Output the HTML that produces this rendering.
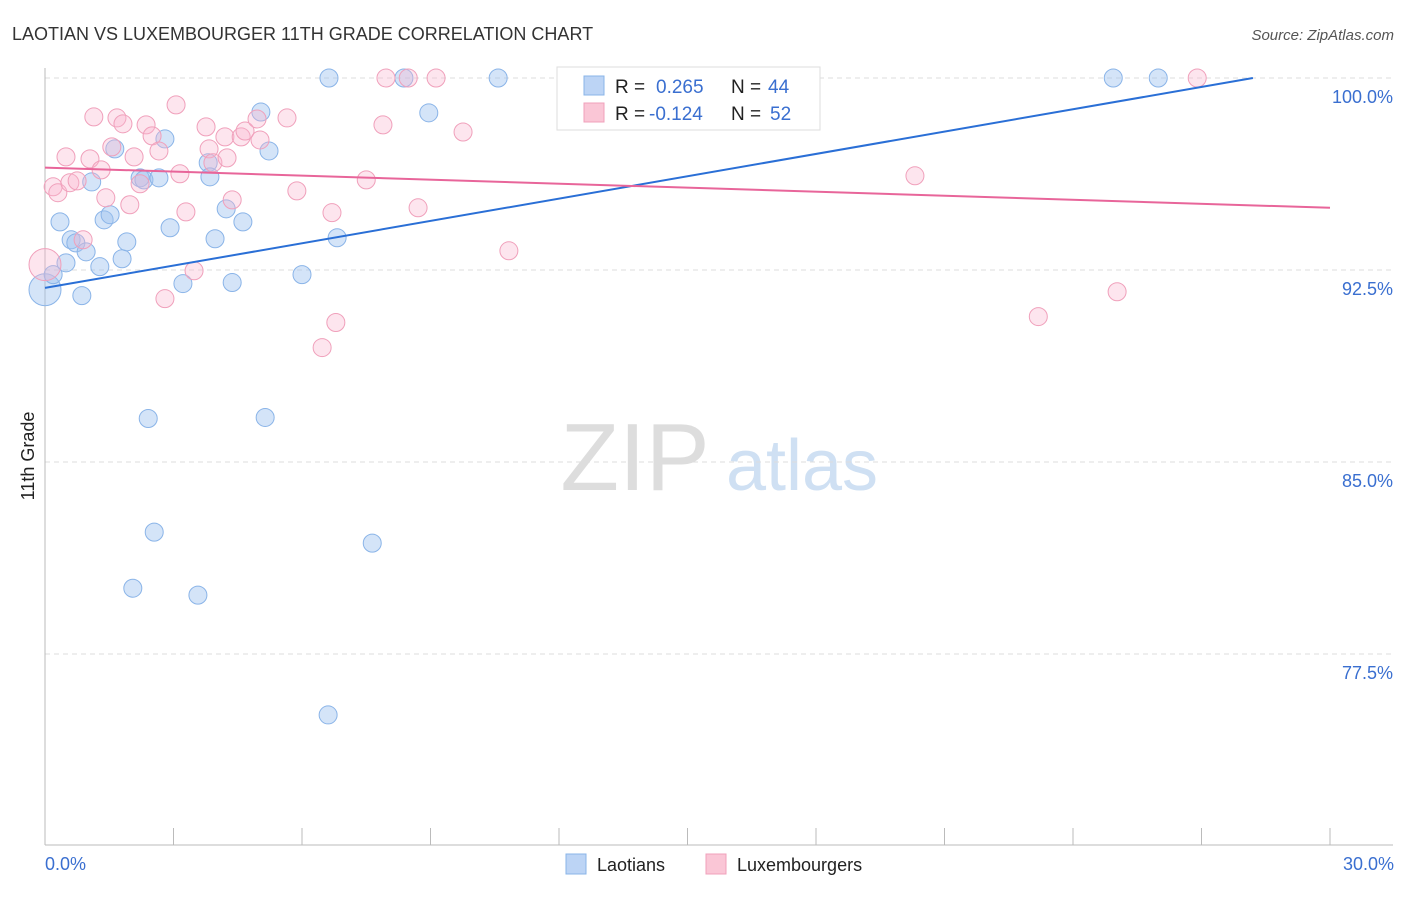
<!DOCTYPE html>
<html><head><meta charset="utf-8"><style>
body{margin:0;background:#fff;font-family:"Liberation Sans",sans-serif;}
svg text{font-family:"Liberation Sans",sans-serif;}
</style></head><body>
<svg id="chart" width="1406" height="892" xmlns="http://www.w3.org/2000/svg">
<text x="12" y="40" font-size="18" fill="#333">LAOTIAN VS LUXEMBOURGER 11TH GRADE CORRELATION CHART</text>
<text x="1394" y="40" font-size="15" fill="#555" font-style="italic" text-anchor="end">Source: ZipAtlas.com</text>
<g>
<text x="635" y="490" font-size="96" fill="#ddd" font-family="Liberation Serif" text-anchor="middle">ZIP</text>
<text x="802" y="490" font-size="72" fill="#cfe0f3" text-anchor="middle">atlas</text>
</g>
<g id="grid"></g>
<g id="axes"></g>
<g id="marks"></g>
<text transform="translate(34,456) rotate(-90)" font-size="18" fill="#222" text-anchor="middle">11th Grade</text>
<text x="45" y="870" font-size="18" fill="#3a6fd0">0.0%</text>
<text x="1394" y="870" font-size="18" fill="#3a6fd0" text-anchor="end">30.0%</text>
<g>
<rect x="557" y="67" width="263" height="63" fill="#fff" stroke="#ddd"/>
<rect x="584" y="76" width="20" height="19" fill="#bcd4f5" stroke="#8ab4e8"/>
<rect x="584" y="103" width="20" height="19" fill="#fac6d6" stroke="#f0a0bb"/>
<text x="615" y="93" font-size="19" fill="#222">R = </text><text x="656" y="93" font-size="19" fill="#3a6fd0">0.265</text>
<text x="731" y="93" font-size="19" fill="#222">N = </text><text x="768" y="93" font-size="19" fill="#3a6fd0">44</text>
<text x="615" y="120" font-size="19" fill="#222">R = </text><text x="649" y="120" font-size="19" fill="#3a6fd0">-0.124</text>
<text x="731" y="120" font-size="19" fill="#222">N = </text><text x="770" y="120" font-size="19" fill="#3a6fd0">52</text>
</g>
<g>
<rect x="566" y="854" width="20" height="20" fill="#bcd4f5" stroke="#8ab4e8"/>
<text x="597" y="871" font-size="18" fill="#222">Laotians</text>
<rect x="706" y="854" width="20" height="20" fill="#fac6d6" stroke="#f0a0bb"/>
<text x="737" y="871" font-size="18" fill="#222">Luxembourgers</text>
</g>
</svg>
<script>
const yTicks=[100,92.5,85,77.5];
const yTickLabels=["100.0%","92.5%","85.0%","77.5%"];
const blueX=[0.00,0.19,0.35,0.49,0.61,0.72,0.86,0.96,1.09,1.28,1.38,1.52,1.63,1.80,1.91,2.05,2.22,2.31,2.41,2.55,2.66,2.80,2.92,3.22,3.57,3.81,3.85,3.97,4.23,4.37,4.62,5.04,5.14,5.23,6.00,6.61,6.63,6.82,7.64,8.38,8.96,10.58,24.94,25.99];
const blueY=[91.73,92.32,94.38,92.78,93.68,93.56,91.50,93.21,95.94,92.63,94.46,94.66,97.23,92.94,93.60,80.07,96.10,96.02,86.70,82.26,96.10,97.62,94.15,91.97,79.80,96.69,96.14,93.72,94.89,92.01,94.38,98.67,86.74,97.15,92.32,75.12,100,93.76,81.83,100,98.64,100,100,100];
const pinkX=[0.00,0.19,0.30,0.49,0.58,0.75,0.89,1.05,1.14,1.31,1.42,1.56,1.68,1.82,1.98,2.08,2.22,2.36,2.50,2.66,2.80,3.06,3.15,3.29,3.48,3.76,3.83,3.92,4.20,4.25,4.37,4.58,4.67,4.95,5.02,5.65,5.88,6.47,6.70,6.79,7.50,7.89,7.96,8.48,8.71,9.13,9.76,10.83,20.31,23.19,25.03,26.90];
const pinkY=[92.71,95.75,95.52,96.92,95.91,95.98,93.68,96.84,98.48,96.41,95.32,97.31,98.44,98.21,95.05,96.92,95.87,98.17,97.74,97.15,91.38,98.95,96.26,94.77,92.47,98.09,97.23,96.69,97.70,96.88,95.24,97.70,97.93,98.40,97.58,98.44,95.59,89.47,94.74,90.45,96.02,98.17,100,100,94.93,100,97.89,93.25,96.18,90.68,91.65,100];
const blueTrend=[[0,91.8],[28.2,100]];
const pinkTrend=[[0,96.5],[30,94.93]];
const NS="http://www.w3.org/2000/svg";
const xs=v=>45+v/30*1285;
const ys=v=>78+(100-v)/7.5*192;
function mk(tag,attrs,parent){const e=document.createElementNS(NS,tag);for(const k in attrs)e.setAttribute(k,attrs[k]);document.getElementById(parent).appendChild(e);return e;}
yTicks.forEach((t,i)=>{
 const g=mk('line',{x1:45,x2:1393,y1:ys(t),y2:ys(t),stroke:'#ddd','stroke-dasharray':'5,4'},'grid');
 
 
 const l=mk('text',{x:1393,y:ys(t)+25,'font-size':18,fill:'#3a6fd0','text-anchor':'end'},'grid');
 l.textContent=yTickLabels[i];
 
 
});
const ax=mk('line',{x1:45,x2:45,y1:68,y2:845,stroke:'#bbb'},'axes');


const bx=mk('line',{x1:45,x2:1393,y1:845,y2:845,stroke:'#bbb'},'axes');


for(let i=0;i<=10;i++){const t=mk('line',{x1:xs(i*3),x2:xs(i*3),y1:828,y2:845,stroke:'#bbb'},'axes');
 
 }
function dots(X,Y,fill,stroke,name){X.forEach((x,i)=>{const r=(i===0)?16:9;
 const c=mk('circle',{cx:xs(x),cy:ys(Y[i]),r:r,fill:fill,stroke:stroke,'stroke-width':1},'marks');
 
 });}
dots(blueX,blueY,'rgba(160,195,240,0.45)','#8ab4e8','laotian-point');
dots(pinkX,pinkY,'rgba(248,180,205,0.35)','#f0a0bb','luxembourger-point');
const bl=mk('line',{x1:xs(blueTrend[0][0]),y1:ys(blueTrend[0][1]),x2:xs(blueTrend[1][0]),y2:ys(blueTrend[1][1]),stroke:'#2a6fd6','stroke-width':2},'marks');


const pl=mk('line',{x1:xs(pinkTrend[0][0]),y1:ys(pinkTrend[0][1]),x2:xs(pinkTrend[1][0]),y2:ys(pinkTrend[1][1]),stroke:'#e8659a','stroke-width':2},'marks');


</script>
</body></html>
